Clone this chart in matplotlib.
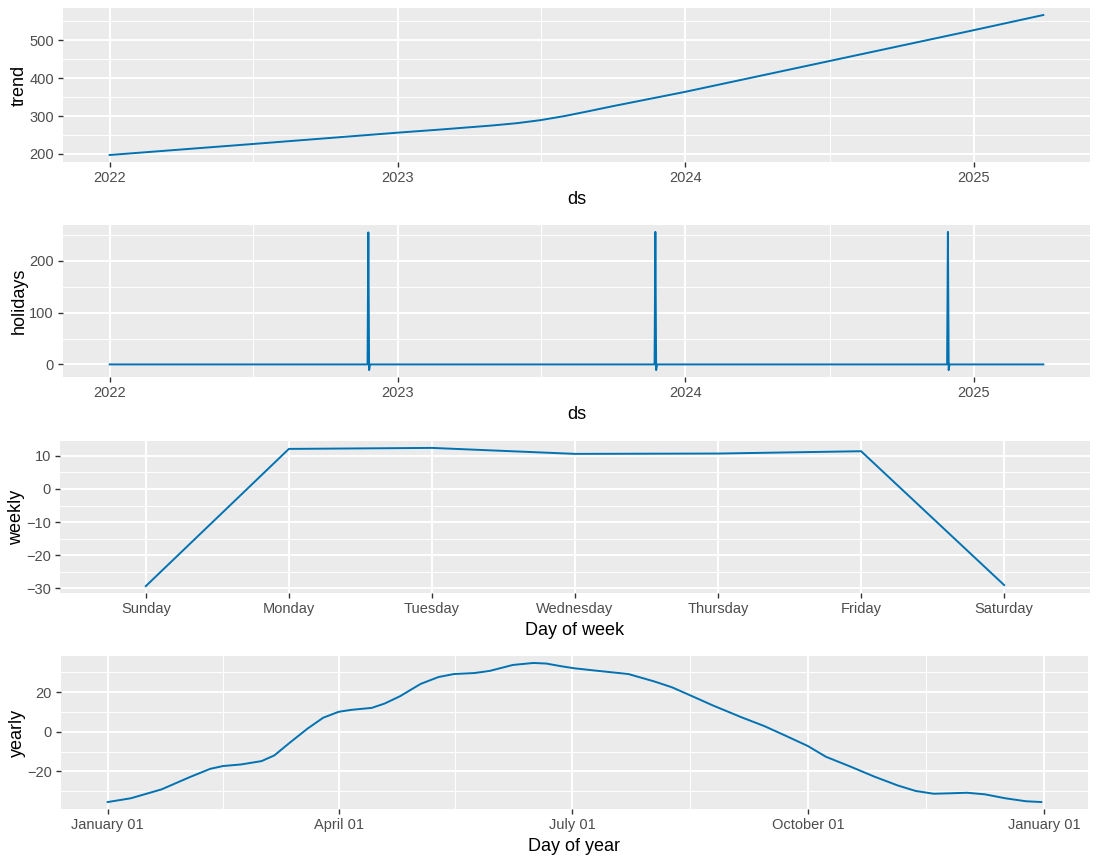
import matplotlib
matplotlib.use('Agg')
import matplotlib.pyplot as plt
import matplotlib.dates as mdates
from matplotlib.ticker import MultipleLocator, FixedLocator, FixedFormatter
import pandas as pd
import numpy as np

plt.rcParams['font.family'] = ['Liberation Sans', 'DejaVu Sans']

# ---------------- data ----------------
trend_ds = ['2022-01-01', '2022-07-01', '2023-01-01', '2023-03-01', '2023-05-01',
            '2023-06-01', '2023-07-01', '2023-08-01', '2023-09-01', '2023-10-01',
            '2024-01-01', '2024-07-01', '2025-01-01', '2025-03-30']
trend_vals = [197, 226, 256, 265, 275, 281, 289, 300, 313, 326, 364, 445, 527, 567]

holidays_ds = ['2022-01-01',
               '2022-11-24', '2022-11-25', '2022-11-26', '2022-11-27',
               '2023-11-23', '2023-11-24', '2023-11-25', '2023-11-26',
               '2024-11-28', '2024-11-29', '2024-11-30', '2024-12-01',
               '2025-03-30']
holidays_vals = [0,
                 0, 255, -11, 0,
                 0, 256, -11, 0,
                 0, 256, -11, 0,
                 0]

weekdays = ['Sunday', 'Monday', 'Tuesday', 'Wednesday', 'Thursday', 'Friday', 'Saturday']
weekly_vals = [-29.3, 12.1, 12.4, 10.6, 10.7, 11.4, -29.0]

yearly_day = [0, 9, 21, 32, 40, 45, 52, 60, 65, 71, 78, 84, 90, 95, 103, 108, 114, 122,
              129, 135, 143, 149, 158, 166, 171, 177, 182, 189, 203, 213, 220, 227, 236,
              247, 256, 264, 273, 280, 290, 299, 308, 315, 322, 328, 335, 342, 350, 358, 364]
yearly_vals = [-35.5, -33.6, -29.1, -22.9, -18.7, -17.3, -16.5, -14.8, -11.9, -5.5, 1.7,
               7.1, 10.1, 11.1, 12.1, 14.3, 18.0, 24.2, 27.7, 29.2, 29.7, 30.8, 33.8, 34.8,
               34.5, 33.1, 32.1, 31.1, 29.2, 25.5, 22.5, 18.5, 13.3, 7.4, 2.9, -1.8, -7.2,
               -12.6, -17.8, -22.7, -27.1, -29.9, -31.3, -31.1, -30.8, -31.6, -33.6, -35.1,
               -35.5]
yearly_tick_dates = ['2017-01-01', '2017-04-01', '2017-07-01', '2017-10-01', '2018-01-01']
yearly_tick_labels = ['January 01', 'April 01', 'July 01', 'October 01', 'January 01']

# ---------------- style ----------------
LINE = '#0072B2'
W, H = 1100, 864
fig = plt.figure(figsize=(11, 8.64), dpi=100)
TICK_FS = 10.5
TITLE_FS = 13


def add_ax(l, t, r, b):
    return fig.add_axes([l / W, 1 - b / H, (r - l) / W, (b - t) / H])


def style(ax):
    ax.set_facecolor('#EBEBEB')
    for s in ax.spines.values():
        s.set_visible(False)
    ax.set_axisbelow(True)
    ax.grid(True, which='major', color='white', linewidth=1.4)
    ax.grid(True, which='minor', color='white', linewidth=0.7)
    ax.tick_params(which='major', length=3.5, width=1, color='#333333',
                   labelcolor='#4D4D4D', labelsize=TICK_FS, pad=3)
    ax.tick_params(which='minor', length=0)
    ax.margins(x=0.05, y=0.05)


def titles(ax, xl, yl):
    ax.set_xlabel(xl, fontsize=TITLE_FS, labelpad=4.5)
    ax.set_ylabel(yl, fontsize=TITLE_FS, labelpad=1)


# trend
ax1 = add_ax(63, 8, 1090, 162)
ax1.plot(pd.to_datetime(trend_ds), trend_vals, color=LINE, lw=1.4)
style(ax1)
ax1.xaxis.set_major_locator(mdates.YearLocator())
ax1.xaxis.set_major_formatter(mdates.DateFormatter('%Y'))
ax1.xaxis.set_minor_locator(mdates.MonthLocator(bymonth=7, bymonthday=2))
ax1.yaxis.set_major_locator(MultipleLocator(100))
ax1.yaxis.set_minor_locator(MultipleLocator(50))
titles(ax1, 'ds', 'trend')

# holidays
ax2 = add_ax(63, 225, 1090, 377)
ax2.plot(pd.to_datetime(holidays_ds), holidays_vals, color=LINE, lw=1.4)
style(ax2)
ax2.xaxis.set_major_locator(mdates.YearLocator())
ax2.xaxis.set_major_formatter(mdates.DateFormatter('%Y'))
ax2.xaxis.set_minor_locator(mdates.MonthLocator(bymonth=7, bymonthday=2))
ax2.yaxis.set_major_locator(MultipleLocator(100))
ax2.yaxis.set_minor_locator(MultipleLocator(50))
titles(ax2, 'ds', 'holidays')

# weekly
ax3 = add_ax(60, 441, 1090, 593)
xw = np.arange(len(weekdays))
ax3.plot(xw, weekly_vals, color=LINE, lw=1.4)
style(ax3)
ax3.set_xlim(-0.6, len(weekdays) - 0.4)
ax3.set_xticks(xw)
ax3.set_xticklabels(weekdays)
ax3.yaxis.set_major_locator(MultipleLocator(10))
ax3.yaxis.set_minor_locator(MultipleLocator(5))
titles(ax3, 'Day of week', 'weekly')

# yearly
ax4 = add_ax(61, 656, 1088, 809)
yx = pd.Timestamp('2017-01-01') + pd.to_timedelta(yearly_day, unit='D')
ax4.plot(yx, yearly_vals, color=LINE, lw=1.4)
style(ax4)
tick_nums = mdates.date2num(pd.to_datetime(yearly_tick_dates))
ax4.xaxis.set_major_locator(FixedLocator(tick_nums))
ax4.xaxis.set_major_formatter(FixedFormatter(yearly_tick_labels))
ax4.xaxis.set_minor_locator(FixedLocator((tick_nums[:-1] + tick_nums[1:]) / 2))
ax4.yaxis.set_major_locator(MultipleLocator(20))
ax4.yaxis.set_minor_locator(MultipleLocator(10))
titles(ax4, 'Day of year', 'yearly')

fig.savefig('out.png', dpi=100, facecolor='white')
